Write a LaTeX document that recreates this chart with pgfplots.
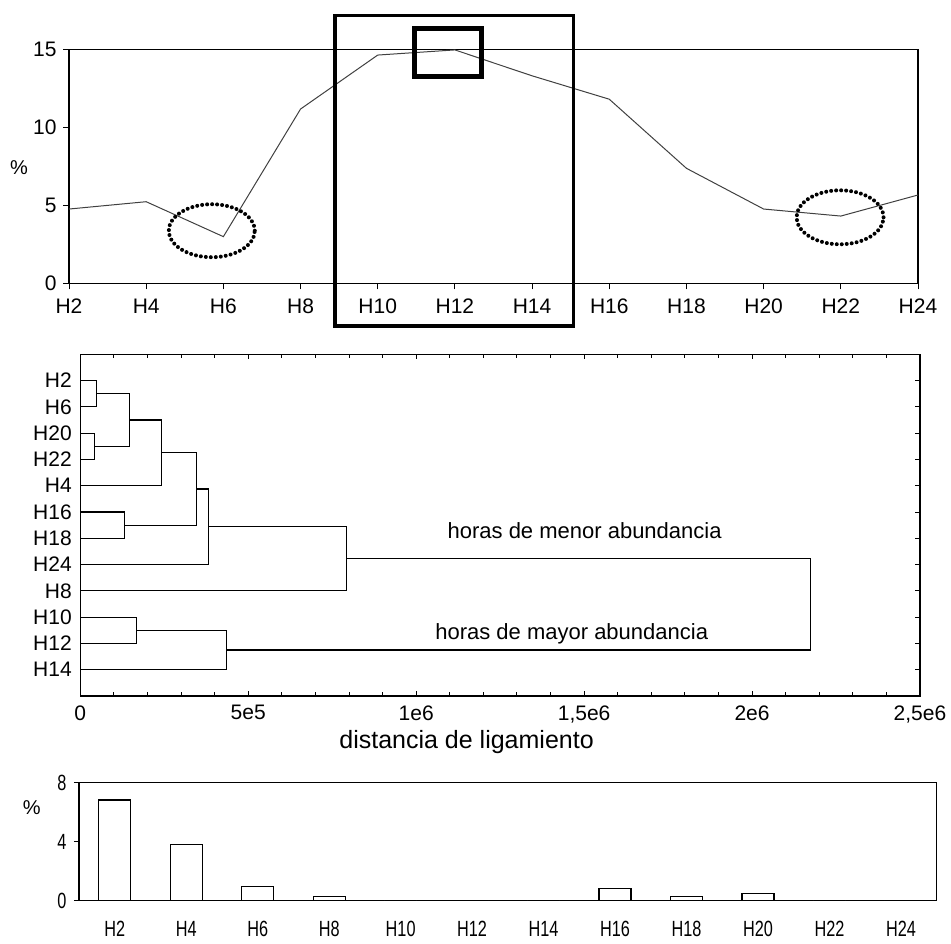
\documentclass[border=0pt]{standalone}
\usepackage{fontspec}
\setmainfont{Liberation Sans}
\usepackage{graphicx}
\usepackage{pgfplots}
\pgfplotsset{compat=1.18}
\newcommand{\nb}[1]{\scalebox{0.74}[1]{#1}}
\begin{document}
\begin{tikzpicture}
\useasboundingbox (0,0) rectangle (951pt,943pt);
% ---------------- top line chart ----------------
\begin{axis}[
  at={(69pt,659.7pt)}, anchor=south west, scale only axis,
  width=849pt, height=234pt,
  xmin=0, xmax=11, ymin=0, ymax=15,
  xtick={0,...,11},
  xticklabels={H2,H4,H6,H8,H10,H12,H14,H16,H18,H20,H22,H24},
  ytick={0,5,10,15},
  tick align=outside, xtick pos=bottom, ytick pos=left,
  major tick length=6pt,
  tick style={black, line width=1pt},
  axis line style={line width=1.1pt},
  ticklabel style={font=\fontsize{21}{24}\selectfont},
  /pgf/number format/assume math mode=true,
  xticklabel style={yshift=-6pt},
  yticklabel style={xshift=-3pt},
  clip=false,
  ylabel={\%},
  ylabel style={rotate=-90, at={(axis description cs:-0.059,0.493)}, anchor=center, font=\fontsize{20}{20}\selectfont},
]
\addplot[black!75, line width=1pt, mark=none] coordinates {
  (0,4.76) (1,5.23) (2,2.99) (3,11.17) (4,14.63) (5,14.96)
  (6,13.3) (7,11.8) (8,7.37) (9,4.76) (10,4.31) (11,5.66)};
\draw[line width=3.5pt] (axis cs:3.447,17.17) rectangle (axis cs:6.537,-2.74);
\draw[line width=5pt] (axis cs:4.473,16.31) rectangle (axis cs:5.342,13.27);
\draw[line width=4pt, dash pattern=on 0pt off 5pt, line cap=round]
  (axis cs:1.85,3.37) ellipse [x radius=43pt, y radius=26.5pt];
\draw[line width=4pt, dash pattern=on 0pt off 5pt, line cap=round]
  (axis cs:9.99,4.23) ellipse [x radius=43.5pt, y radius=27pt];
\end{axis}
% ---------------- dendrogram ----------------
\begin{axis}[
  at={(80.3pt,247pt)}, anchor=south west, scale only axis,
  width=839.7pt, height=341.7pt,
  xmin=0, xmax=2.5e6, ymin=0, ymax=13,
  xtick={0,5e5,1e6,1.5e6,2e6,2.5e6},
  xticklabels={0,5e5,1e6,{1,5e6},2e6,{2,5e6}},
  scaled x ticks=false,
  minor x tick num=4,
  ytick={1,...,12},
  yticklabels={H14,H12,H10,H8,H24,H18,H16,H4,H22,H20,H6,H2},
  tick align=inside,
  major tick length=5pt, minor tick length=4pt,
  tick style={black, line width=1pt},
  axis line style={line width=1.3pt},
  ticklabel style={font=\fontsize{21}{24}\selectfont},
  /pgf/number format/assume math mode=true,
  xticklabel style={yshift=-6pt},
  yticklabel style={xshift=-5pt},
  xlabel={distancia de ligamiento},
  xlabel style={at={(axis description cs:0.46,0)}, yshift=-45.7pt, anchor=center, font=\fontsize{25}{28}\selectfont},
  clip=false,
]
\addplot[black, line width=1.1pt, mark=none] coordinates {(0,12) (4.8e4,12) (4.8e4,11) (0,11)};
\addplot[black, line width=1.1pt, mark=none] coordinates {(0,10) (4.2e4,10) (4.2e4,9) (0,9)};
\addplot[black, line width=1.1pt, mark=none] coordinates {(4.8e4,11.5) (1.47e5,11.5) (1.47e5,9.5) (4.2e4,9.5)};
\addplot[black, line width=1.1pt, mark=none] coordinates {(1.47e5,10.5) (2.42e5,10.5) (2.42e5,8) (0,8)};
\addplot[black, line width=1.1pt, mark=none] coordinates {(0,7) (1.31e5,7) (1.31e5,6) (0,6)};
\addplot[black, line width=1.1pt, mark=none] coordinates {(2.42e5,9.25) (3.47e5,9.25) (3.47e5,6.5) (1.31e5,6.5)};
\addplot[black, line width=1.1pt, mark=none] coordinates {(3.47e5,7.875) (3.83e5,7.875) (3.83e5,5) (0,5)};
\addplot[black, line width=1.1pt, mark=none] coordinates {(3.83e5,6.4375) (7.93e5,6.4375) (7.93e5,4) (0,4)};
\addplot[black, line width=1.1pt, mark=none] coordinates {(0,3) (1.68e5,3) (1.68e5,2) (0,2)};
\addplot[black, line width=1.1pt, mark=none] coordinates {(1.68e5,2.5) (4.36e5,2.5) (4.36e5,1) (0,1)};
\addplot[black, line width=1.1pt, mark=none] coordinates {(7.93e5,5.21875) (2.175e6,5.21875) (2.175e6,1.75) (4.36e5,1.75)};
\node[font=\fontsize{22}{24}\selectfont] at (axis cs:1.5015e6,6.29) {horas de menor abundancia};
\node[font=\fontsize{22}{24}\selectfont] at (axis cs:1.463e6,2.37) {horas de mayor abundancia};
\end{axis}
% ---------------- bottom bars ----------------
\begin{axis}[
  at={(79pt,42.3pt)}, anchor=south west, scale only axis,
  width=857.7pt, height=118pt,
  xmin=-0.5, xmax=11.5, ymin=0, ymax=8,
  ytick={0,4,8},
  yticklabels={\nb{0},\nb{4},\nb{8}},
  xtick={0,...,11},
  xticklabels={\nb{H2},\nb{H4},\nb{H6},\nb{H8},\nb{H10},\nb{H12},\nb{H14},\nb{H16},\nb{H18},\nb{H20},\nb{H22},\nb{H24}},
  xtick style={draw=none},
  extra x ticks={-0.5,0.5,...,11.5},
  extra x tick labels={},
  extra x tick style={tick align=outside, major tick length=5pt, tick style={black, line width=1pt}},
  ytick style={black, line width=1pt},
  ytick pos=left, xtick pos=bottom,
  tick align=outside, major tick length=5pt,
  axis line style={line width=1.2pt},
  ticklabel style={font=\fontsize{22}{24}\selectfont},
  xticklabel style={yshift=-12pt},
  yticklabel style={xshift=-4pt},
  ybar, bar width=32pt,
  clip=false,
  ylabel={\%},
  ylabel style={rotate=-90, at={(axis description cs:-0.0551,0.786)}, anchor=center, font=\fontsize{20}{20}\selectfont},
]
\addplot[draw=black, fill=white, line width=1.2pt] coordinates {
  (0,6.83) (1,3.82) (2,0.95) (3,0.27) (4,0) (5,0)
  (6,0) (7,0.84) (8,0.27) (9,0.5) (10,0) (11,0)};
\end{axis}
\end{tikzpicture}
\end{document}
